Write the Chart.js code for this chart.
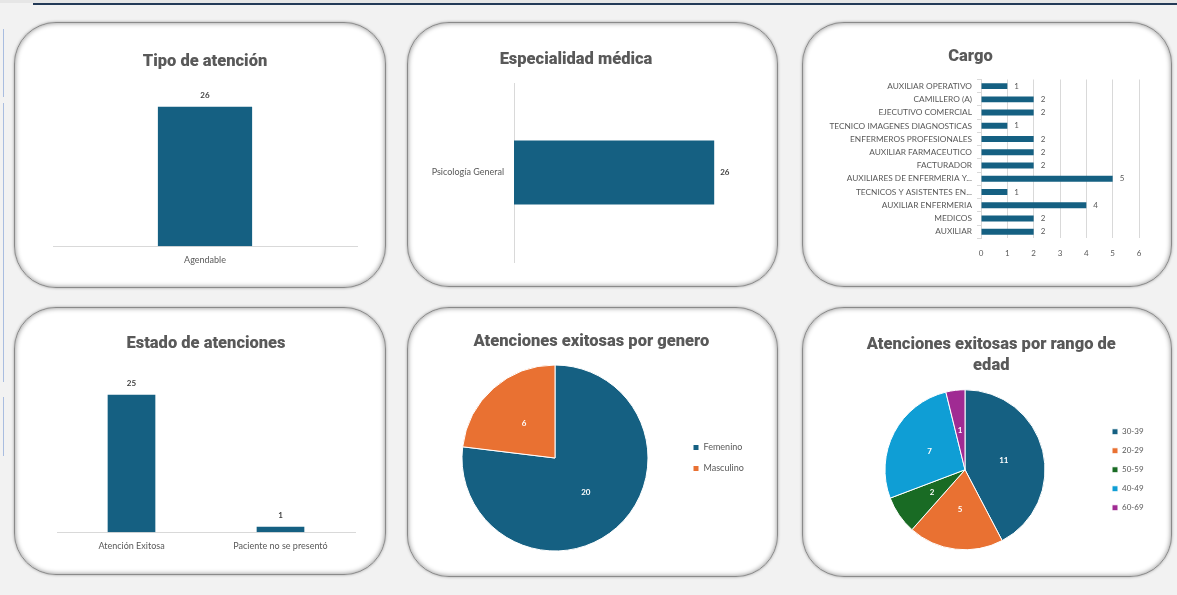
<!DOCTYPE html>
<html>
<head>
<meta charset="utf-8">
<script src="https://cdn.jsdelivr.net/npm/chart.js@4.4.1/dist/chart.umd.min.js"></script>
<style>
  html, body { margin:0; padding:0; }
  body { width:1177px; height:595px; background:#f2f2f2; position:relative; overflow:hidden; font-family:Lato, sans-serif; }
  .topbar { position:absolute; left:0; top:0; width:1177px; height:3px; background:#e6e6e6; }
  .topline { position:absolute; left:33px; top:3px; width:1144px; height:2px; background:#233a57; }
  .vline { position:absolute; left:3px; width:1px; background:#a9bde0; }
  .card { position:absolute; box-sizing:border-box; background:#fff; border:1.5px solid #8a8a8a; border-radius:42px;
          box-shadow: 0 0 3px rgba(0,0,0,0.35), inset 0 0 5px rgba(0,0,0,0.45); }
  canvas { position:absolute; }
</style>
</head>
<body>
<div class="topbar"></div>
<div class="topline"></div>
<div class="vline" style="top:29px;height:68px"></div>
<div class="vline" style="top:103px;height:279px"></div>
<div class="vline" style="top:397px;height:59px"></div>

<div class="card" style="left:14px;top:22px;width:372px;height:266px"></div>
<div class="card" style="left:407px;top:22px;width:371px;height:265px"></div>
<div class="card" style="left:802px;top:22px;width:370px;height:265px"></div>
<div class="card" style="left:14px;top:307px;width:372px;height:268px"></div>
<div class="card" style="left:407px;top:307px;width:371px;height:270px"></div>
<div class="card" style="left:802px;top:307px;width:370px;height:270px"></div>

<canvas id="c1" width="372" height="266" style="left:14px;top:22px"></canvas>
<canvas id="c2" width="371" height="265" style="left:407px;top:22px"></canvas>
<canvas id="c3" width="370" height="265" style="left:802px;top:22px"></canvas>
<canvas id="c4" width="372" height="268" style="left:14px;top:307px"></canvas>
<canvas id="c5" width="371" height="270" style="left:407px;top:307px"></canvas>
<canvas id="c6" width="370" height="270" style="left:802px;top:307px"></canvas>

<script>
// ---------- DATA ----------
const tipoLabels = ["Agendable"];
const tipoValues = [26];

const especialidadLabels = ["Psicología General"];
const especialidadValues = [26];

const cargoLabels = [
  "AUXILIAR OPERATIVO",
  "CAMILLERO (A)",
  "EJECUTIVO COMERCIAL",
  "TECNICO IMAGENES DIAGNOSTICAS",
  "ENFERMEROS PROFESIONALES",
  "AUXILIAR FARMACEUTICO",
  "FACTURADOR",
  "AUXILIARES DE ENFERMERIA Y...",
  "TECNICOS Y ASISTENTES EN...",
  "AUXILIAR ENFERMERIA",
  "MEDICOS",
  "AUXILIAR"
];
const cargoValues = [1, 2, 2, 1, 2, 2, 2, 5, 1, 4, 2, 2];
const cargoTicks = [0, 1, 2, 3, 4, 5, 6];

const estadoLabels = ["Atención Exitosa", "Paciente no se presentó"];
const estadoValues = [25, 1];

const generoLabels = ["Femenino", "Masculino"];
const generoValues = [20, 6];

const edadLabels = ["30-39", "20-29", "50-59", "40-49", "60-69"];
const edadValues = [11, 5, 2, 7, 1];

// ---------- STYLE ----------
const BLUE = "#156082", ORANGE = "#E97132", GREEN = "#196B24", LBLUE = "#0F9ED5", PURPLE = "#A02B93";
const TXT = "#595959";
const FONT = "Lato, 'Open Sans', sans-serif";
const TFONT = "Roboto, Lato, sans-serif";
const titleFont = { family: TFONT, size: 16.5, weight: "900", lineHeight: 1.2 };

Chart.defaults.animation = false;
Chart.defaults.responsive = false;
Chart.defaults.font.family = FONT;
Chart.defaults.color = TXT;
Chart.defaults.plugins.tooltip.enabled = false;

const valueLabels = {
  id: "valueLabels",
  afterDatasetsDraw(chart, args, opts) {
    if (!opts || !opts.mode) return;
    const ctx = chart.ctx;
    chart.data.datasets.forEach((ds, i) => {
      const meta = chart.getDatasetMeta(i);
      meta.data.forEach((el, j) => {
        const v = ds.data[j];
        ctx.save();
        ctx.font = opts.font;
        ctx.fillStyle = opts.color;
        if (opts.mode === "top") {
          ctx.textAlign = "center"; ctx.textBaseline = "middle";
          ctx.fillText(String(v), el.x, el.y - opts.offset);
        } else if (opts.mode === "right") {
          ctx.textAlign = "left"; ctx.textBaseline = "middle";
          ctx.fillText(String(v), el.x + opts.offset, el.y);
        } else if (opts.mode === "arc") {
          const p = el.tooltipPosition();
          ctx.textAlign = "center"; ctx.textBaseline = "middle";
          ctx.fillText(String(v), p.x, p.y);
        }
        ctx.restore();
      });
    });
  }
};

function title(text, top, bottom, lh) {
  return { display: true, text, color: TXT, font: Object.assign({}, titleFont, lh ? { lineHeight: lh } : {}), padding: { top, bottom } };
}

// ---------- Chart 1: Tipo de atención ----------
new Chart(document.getElementById("c1"), {
  type: "bar",
  data: { labels: tipoLabels, datasets: [{ data: tipoValues, backgroundColor: BLUE, barPercentage: 0.31, categoryPercentage: 1 }] },
  options: {
    layout: { padding: { left: 39, right: 29, top: 0, bottom: 15 } },
    plugins: {
      legend: { display: false },
      title: title("Tipo de atención", 30, 13.4),
      valueLabels: { mode: "top", offset: 11, font: "bold 8px " + FONT, color: "#404040" }
    },
    scales: {
      x: { grid: { display: false, drawTicks: false }, border: { color: "#d9d9d9" },
           ticks: { padding: 8, color: TXT, font: { size: 9 } } },
      y: { display: false, min: 0, max: 30 }
    }
  },
  plugins: [valueLabels]
});

// ---------- Chart 2: Especialidad médica ----------
new Chart(document.getElementById("c2"), {
  type: "bar",
  data: { labels: especialidadLabels, datasets: [{ data: especialidadValues, backgroundColor: BLUE, barPercentage: 0.357, categoryPercentage: 1 }] },
  options: {
    indexAxis: "y",
    layout: { padding: { left: 0, right: 33, top: 0, bottom: 25 } },
    plugins: {
      legend: { display: false },
      title: title("Especialidad médica", 28, 13.2),
      valueLabels: { mode: "right", offset: 6, font: "bold 8px " + FONT, color: "#404040" }
    },
    scales: {
      x: { display: false, min: 0, max: 30 },
      y: { grid: { display: false, drawTicks: false }, border: { color: "#d9d9d9" },
           ticks: { padding: 10, color: TXT, font: { size: 9 } },
           afterFit(s) { s.width = 107; } }
    }
  },
  plugins: [valueLabels]
});

// ---------- Chart 3: Cargo ----------
new Chart(document.getElementById("c3"), {
  type: "bar",
  data: { labels: cargoLabels, datasets: [{ data: cargoValues, backgroundColor: BLUE, barPercentage: 0.45, categoryPercentage: 1 }] },
  options: {
    indexAxis: "y",
    layout: { padding: { left: 0, right: 33, top: 0, bottom: 19 } },
    plugins: {
      legend: { display: false },
      title: title("Cargo", 25, 12.7),
      valueLabels: { mode: "right", offset: 7, font: "8px " + FONT, color: TXT }
    },
    scales: {
      x: { min: 0, max: 6, grid: { color: "#d9d9d9", drawTicks: false }, border: { display: false },
           afterBuildTicks(s) { s.ticks = cargoTicks.map(v => ({ value: v })); },
           ticks: { padding: 10, color: TXT, font: { size: 8 } } },
      y: { grid: { display: true, drawOnChartArea: false, drawTicks: true, tickLength: 4, color: "#d9d9d9" },
           border: { color: "#d9d9d9" },
           ticks: { padding: 5, color: TXT, font: { size: 8.3 }, autoSkip: false },
           afterFit(s) { s.width = 179; } }
    }
  },
  plugins: [valueLabels]
});

// ---------- Chart 4: Estado de atenciones ----------
new Chart(document.getElementById("c4"), {
  type: "bar",
  data: { labels: estadoLabels, datasets: [{ data: estadoValues, backgroundColor: BLUE, barPercentage: 0.32, categoryPercentage: 1 }] },
  options: {
    layout: { padding: { left: 43, right: 31, top: 0, bottom: 16 } },
    plugins: {
      legend: { display: false },
      title: title("Estado de atenciones", 27, 13.6),
      valueLabels: { mode: "top", offset: 11, font: "bold 8px " + FONT, color: "#404040" }
    },
    scales: {
      x: { grid: { display: false, drawTicks: false }, border: { color: "#d9d9d9" },
           ticks: { padding: 8, color: TXT, font: { size: 9 } } },
      y: { display: false, min: 0, max: 30 }
    }
  },
  plugins: [valueLabels]
});

// ---------- Pies ----------
function legendWidth(labels, padding, boxW, fs) {
  const m = document.createElement("canvas").getContext("2d");
  m.font = fs + "px " + FONT;
  const tw = Math.max(...labels.map(l => m.measureText(l).width));
  return padding + boxW + fs / 2 + tw + 10;
}

function pieChart(id, W, labels, values, colors, ttl, tTop, tBottom, tLH, areaL, areaR, padBottom, radius, legPad, fs) {
  const lw = legendWidth(labels, legPad, 6, fs);
  new Chart(document.getElementById(id), {
    type: "pie",
    data: { labels, datasets: [{ data: values, backgroundColor: colors, borderColor: "#ffffff", borderWidth: 1, radius }] },
    options: {
      layout: { padding: { left: areaL, right: W - areaR - lw, top: 0, bottom: padBottom } },
      plugins: {
        title: title(ttl, tTop, tBottom, tLH),
        legend: { position: "right", align: "center", fullSize: false,
                  labels: { boxWidth: 6, boxHeight: 6, padding: legPad, color: TXT, font: { size: fs } } },
        valueLabels: { mode: "arc", font: "bold 8px " + FONT, color: "#ffffff" }
      }
    },
    plugins: [valueLabels]
  });
}

pieChart("c5", 371, generoLabels, generoValues, [BLUE, ORANGE],
  "Atenciones exitosas por genero", 25, 5.2, 1.2, 22, 274, 18, 93, 12, 9);

pieChart("c6", 370, edadLabels, edadValues, [BLUE, ORANGE, GREEN, LBLUE, PURPLE],
  ["Atenciones exitosas por rango de", "edad"], 27.5, 8.1, 1.27, 27, 299, 22, 80, 11, 8);
</script>
</body>
</html>
